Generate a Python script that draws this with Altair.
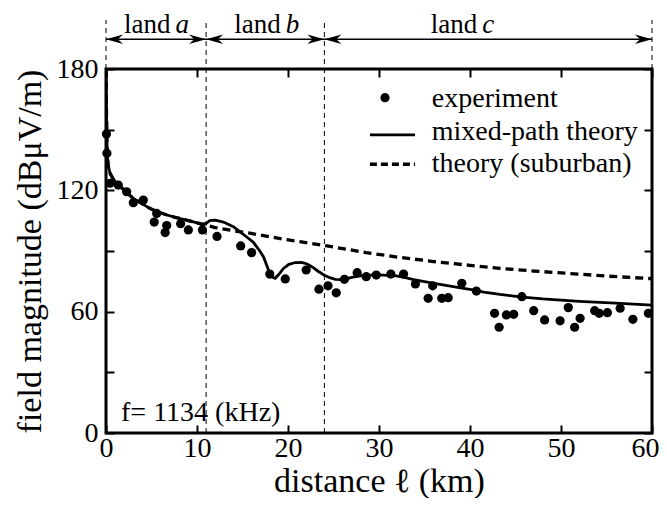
import altair as alt
import pandas as pd

# ---------------- data ----------------
exp_x = [0.05, 0.1, 0.45, 1.35, 2.27, 3.0, 4.1, 5.3, 5.57, 6.5, 6.67, 8.2, 9.05, 10.6,
         12.2, 14.8, 16.0, 18.0, 19.7, 22.0, 23.4, 24.4, 25.3, 26.2, 27.6, 28.6, 29.7,
         31.3, 32.7, 34.0, 35.4, 35.9, 36.9, 37.6, 39.1, 40.7, 42.7, 43.2, 44.0, 44.8,
         45.7, 47.0, 48.2, 49.9, 50.8, 51.5, 52.1, 53.7, 54.2, 55.1, 56.5, 57.9, 59.6]
exp_y = [147.9, 138.3, 123.5, 122.6, 119.3, 113.9, 115.2, 104.3, 108.6, 99.1, 102.6, 103.5,
         100.4, 100.4, 97.2, 92.5, 89.2, 78.6, 76.2, 80.6, 71.1, 72.8, 69.3, 76.0, 79.3,
         77.3, 78.1, 78.6, 78.6, 73.7, 66.6, 72.8, 66.6, 66.9, 74.0, 70.2, 59.2, 52.3,
         58.4, 58.7, 67.4, 60.5, 55.9, 55.5, 62.0, 52.3, 56.7, 60.5, 59.2, 59.5, 61.7,
         56.2, 59.2]

mix_x = [0.0, 0.05, 0.1, 0.15, 0.25, 0.45, 0.8, 1.2, 2.0, 3.0, 4.0, 4.8, 5.7, 6.7, 7.6,
         8.5, 9.5, 10.5, 11.0, 11.4, 12.0, 12.9, 14.0, 14.7, 15.5, 16.2, 16.9, 17.3, 17.7,
         18.0, 18.3, 18.6, 19.0, 19.5, 20.1, 20.8, 21.5, 22.1, 22.7, 23.3, 24.0, 24.6,
         25.2, 25.7, 26.2, 27.0, 28.3, 30.0, 31.9, 32.8, 33.8, 35.3, 36.7, 38.0, 39.3,
         40.5, 41.5, 43.3, 45.5, 48.0, 52.0, 56.0, 60.0]
mix_y = [180.0, 160.0, 145.0, 137.0, 132.0, 128.4, 125.5, 123.5, 120.0, 116.0, 113.3,
         111.1, 109.3, 107.8, 106.6, 105.7, 104.5, 103.3, 103.6, 105.0, 105.3, 104.3,
         102.0, 99.6, 96.8, 94.3, 90.0, 87.2, 82.5, 79.0, 77.0, 76.5, 78.5, 81.4, 83.4,
         84.3, 84.4, 83.6, 82.0, 80.0, 78.0, 76.8, 76.0, 75.8, 76.0, 76.9, 77.9, 78.2,
         77.7, 77.0, 75.9, 74.6, 73.5, 72.5, 71.5, 70.6, 69.7, 68.5, 67.3, 66.3, 65.1,
         64.2, 63.2]

sub_x = [0.0, 0.05, 0.1, 0.15, 0.25, 0.45, 0.8, 1.2, 2.0, 3.0, 4.0, 4.8, 5.7, 6.7, 7.6,
         8.5, 9.5, 10.5, 12.0, 14.0, 15.8, 18.0, 21.3, 24.3, 28.6, 32.0, 36.0, 40.0,
         43.3, 47.0, 50.6, 55.0, 60.0]
sub_y = [180.0, 160.0, 145.0, 137.0, 132.0, 128.4, 125.5, 123.5, 120.0, 116.0, 113.3,
         111.1, 109.3, 107.8, 106.6, 105.7, 104.5, 103.3, 101.6, 100.0, 98.8, 97.0, 94.6,
         92.5, 89.2, 87.0, 84.8, 82.9, 81.4, 80.1, 79.0, 77.6, 76.3]

boundaries = [0, 11, 24, 60]
land_letters = ["a", "b", "c"]
land_label_km = [7.1, 19.2, 40.8]
x_ticks = [0, 10, 20, 30, 40, 50, 60]
y_ticks = [0, 30, 60, 90, 120, 150, 180]
legend_labels = ["experiment", "mixed-path theory", "theory (suburban)"]
freq_label = "f= 1134 (kHz)"

FONT = "Liberation Serif, Times New Roman, Times, serif"
xs = alt.Scale(domain=[0, 60], nice=False, zero=False)
ys = alt.Scale(domain=[0, 180], nice=False, zero=False)


def X(field="x"):
    return alt.X(f"{field}:Q", scale=xs, axis=None)


def Y(field="y"):
    return alt.Y(f"{field}:Q", scale=ys, axis=None)


def XD(v):
    return alt.X(datum=v, type="quantitative", scale=xs, axis=None)


def YD(v):
    return alt.Y(datum=v, type="quantitative", scale=ys, axis=None)


one = pd.DataFrame({"k": [0]})
exp_df = pd.DataFrame({"x": exp_x, "y": exp_y})
mix_df = pd.DataFrame({"x": mix_x, "y": mix_y})
sub_df = pd.DataFrame({"x": sub_x, "y": sub_y})
inner_df = pd.DataFrame({"x": boundaries[1:-1]})
edge_df = pd.DataFrame({"x": [boundaries[0], boundaries[-1]]})
lhead_df = pd.DataFrame({"x": boundaries[:-1]})
rhead_df = pd.DataFrame({"x": boundaries[1:]})
land_df = pd.DataFrame({"x": land_label_km, "t": land_letters, "w": ["land"] * 3})

# bottom / left axes (with labels)
axes_main = alt.Chart(exp_df).mark_circle(size=85, color="black", opacity=1).encode(
    x=alt.X("x:Q", scale=xs, axis=alt.Axis(
        values=x_ticks, orient="bottom", offset=-8, domain=False, grid=False,
        tickSize=8, tickWidth=2, tickColor="black", labelFont=FONT, labelFontSize=28,
        labelColor="black", labelPadding=1, labelFlush=False, labelOverlap=False,
        labelOffset={"condition": {"test": f"datum.value == {x_ticks[-1]}", "value": -7},
                     "value": 0},
        title="distance ℓ (km)", titleFont=FONT, titleFontSize=34,
        titleFontWeight="normal", titleColor="black", titlePadding=2.5)),
    y=alt.Y("y:Q", scale=ys, axis=alt.Axis(
        values=y_ticks, orient="left", offset=-8, domain=False, grid=False,
        tickSize=8, tickWidth=2, tickColor="black", labelFont=FONT, labelFontSize=28,
        labelColor="black", labelPadding=8, labelFlush=False, labelOverlap=False,
        labelExpr="datum.value % 60 == 0 ? datum.label : ''",
        title="field magnitude (dBμV/m)", titleFont=FONT, titleFontSize=34,
        titleFontWeight="normal", titleColor="black", titlePadding=9)),
)

sub_line = alt.Chart(sub_df).mark_line(
    color="black", strokeWidth=3.3, strokeDash=[8, 5], clip=True
).encode(
    x=alt.X("x:Q", scale=xs, axis=alt.Axis(
        values=x_ticks, orient="top", offset=-8, domain=False, grid=False,
        tickSize=8, tickWidth=2, tickColor="black", labels=False, title=None)),
    y=alt.Y("y:Q", scale=ys, axis=alt.Axis(
        values=y_ticks, orient="right", offset=-8, domain=False, grid=False,
        tickSize=8, tickWidth=2, tickColor="black", labels=False, title=None)),
    order="x:Q",
)

mix_line = alt.Chart(mix_df).mark_line(color="black", strokeWidth=2.8, clip=True).encode(
    x=X(), y=Y(), order="x:Q")

inner_rules = alt.Chart(inner_df).mark_rule(
    color="black", strokeWidth=1, strokeDash=[5, 4]).encode(
    x=X(), y=YD(0), y2=alt.Y2(datum=204.2))
edge_rules = alt.Chart(edge_df).mark_rule(
    color="black", strokeWidth=1, strokeDash=[5, 4]).encode(
    x=X(), y=YD(180), y2=alt.Y2(datum=204.2))

shaft = alt.Chart(one).mark_rule(color="black", strokeWidth=1.3).encode(
    x=XD(boundaries[0]), x2=alt.X2(datum=boundaries[-1]), y=YD(194.7))

RIGHT_HEAD = "M0,0 L-2,-0.55 L-1.4,0 L-2,0.55 Z"
LEFT_HEAD = "M0,0 L2,-0.55 L1.4,0 L2,0.55 Z"
lheads = alt.Chart(lhead_df).mark_point(
    shape=LEFT_HEAD, filled=True, size=290, color="black", opacity=1, strokeWidth=0
).encode(x=X(), y=YD(194.7))
rheads = alt.Chart(rhead_df).mark_point(
    shape=RIGHT_HEAD, filled=True, size=290, color="black", opacity=1, strokeWidth=0
).encode(x=X(), y=YD(194.7))

land_word = alt.Chart(land_df).mark_text(
    font=FONT, fontSize=27, align="right", baseline="alphabetic", color="black"
).encode(x=X(), y=YD(197.8), text="w:N")
land_letter = alt.Chart(land_df).mark_text(
    font=FONT, fontSize=27, fontStyle="italic", align="left", baseline="alphabetic",
    color="black", dx=5
).encode(x=X(), y=YD(197.8), text="t:N")

# legend (drawn inside the plot)
leg_dot = alt.Chart(one).mark_circle(size=85, color="black", opacity=1).encode(
    x=XD(30.66), y=YD(165.8))
leg_solid = alt.Chart(one).mark_rule(color="black", strokeWidth=2.8).encode(
    x=XD(29.0), x2=alt.X2(datum=33.96), y=YD(147.4))
leg_dash = alt.Chart(one).mark_rule(color="black", strokeWidth=3.3, strokeDash=[7, 4]).encode(
    x=XD(29.0), x2=alt.X2(datum=33.96), y=YD(132.9))
leg_df = pd.DataFrame({"t": legend_labels, "y": [161.1, 144.9, 129.2]})
leg_text = alt.Chart(leg_df).mark_text(
    font=FONT, fontSize=28, align="left", baseline="alphabetic", color="black"
).encode(x=XD(35.8), y=Y(), text="t:N")

freq = alt.Chart(one).mark_text(
    font=FONT, fontSize=28, align="left", baseline="alphabetic", color="black"
).encode(x=XD(1.65), y=YD(6.0), text=alt.value(freq_label))

chart = alt.layer(
    sub_line, mix_line, axes_main, inner_rules, edge_rules, shaft, lheads, rheads,
    land_word, land_letter, leg_dot, leg_solid, leg_dash, leg_text, freq
).resolve_axis(x="independent", y="independent").properties(
    width=546, height=364,
    padding={"left": 98, "top": 61, "right": 7, "bottom": 65},
    autosize=alt.AutoSizeParams(type="none"),
).configure_view(stroke="black", strokeWidth=3)

chart.save("out.html", embed_options={"renderer": "svg", "actions": False})
